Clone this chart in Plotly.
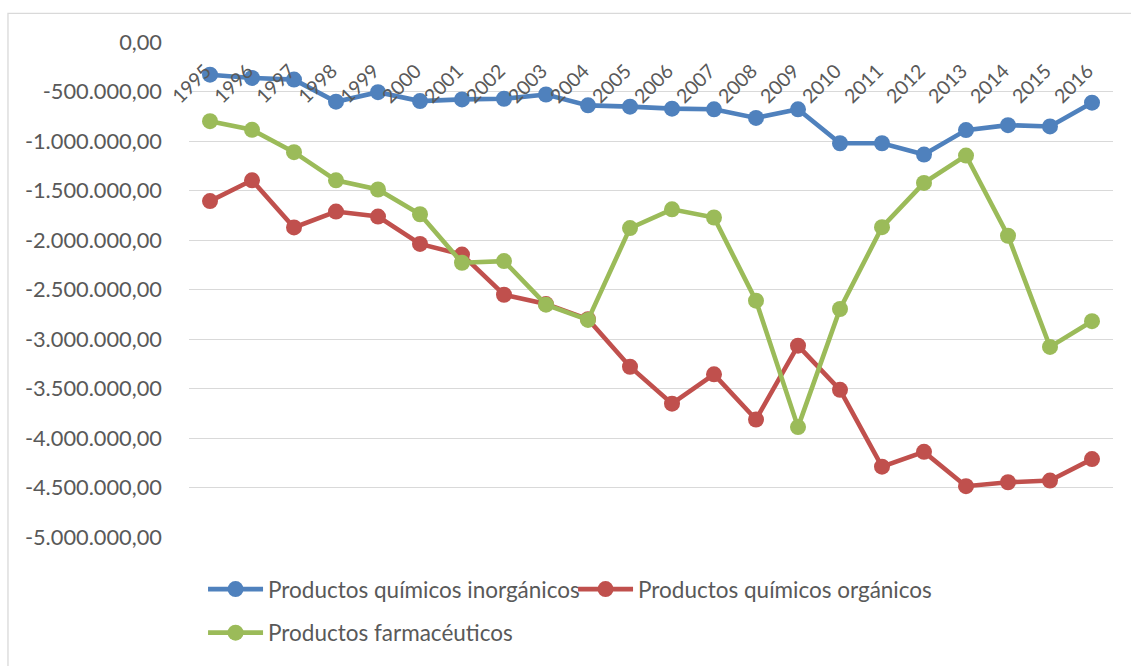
import plotly.graph_objects as go

years = list(range(1995, 2017))

inorganicos = [-330000, -363000, -380000, -603000, -507000, -597000, -580000, -573000,
               -530000, -640000, -653000, -673000, -680000, -767000, -680000, -1023000,
               -1023000, -1137000, -890000, -840000, -853000, -613000]
organicos = [-1607000, -1397000, -1873000, -1713000, -1763000, -2040000, -2147000, -2553000,
             -2647000, -2800000, -3280000, -3653000, -3357000, -3813000, -3067000, -3513000,
             -4290000, -4140000, -4487000, -4447000, -4430000, -4213000]
farmaceuticos = [-800000, -887000, -1113000, -1397000, -1490000, -1740000, -2230000, -2213000,
                 -2653000, -2807000, -1880000, -1690000, -1773000, -2613000, -3890000, -2697000,
                 -1870000, -1423000, -1147000, -1957000, -3080000, -2820000]

names = ["Productos químicos inorgánicos", "Productos químicos orgánicos", "Productos farmacéuticos"]
colors = ["#4F81BD", "#C0504D", "#9BBB59"]

tickvals = [-500000 * i for i in range(11)]


def fmt(v):
    s = f"{abs(v):,.2f}".replace(",", "X").replace(".", ",").replace("X", ".")
    return ("-" if v < 0 else "") + s


ticktext = [fmt(v) for v in tickvals]

FONT = "Lato, 'Open Sans', sans-serif"
GREY = "#595959"

fig = go.Figure()
series = [inorganicos, organicos, farmaceuticos]
legends = ["legend", "legend", "legend2"]
for name, vals, col, lg in zip(names, series, colors, legends):
    fig.add_trace(go.Scatter(
        x=years, y=vals, name=name, mode="lines+markers",
        line=dict(color=col, width=4.6),
        marker=dict(color=col, size=16),
        legend=lg,
    ))

# year labels sit under the zero line, rotated
for yr in years:
    fig.add_annotation(
        x=yr, y=0, xref="x", yref="y", text=str(yr), showarrow=False,
        textangle=-45, xanchor="right", yanchor="top",
        xshift=8, yshift=-15,
        font=dict(family=FONT, size=19.5, color=GREY),
    )

# chart area border (cut off by the page on the right and bottom)
fig.add_shape(type="rect", xref="paper", yref="paper",
              x0=-0.1959, x1=1.03, y0=-0.3, y1=1.058,
              line=dict(color="#D9D9D9", width=1.3), layer="below")

fig.update_layout(
    width=1131, height=666,
    margin=dict(l=189, r=18, t=42, b=124),
    paper_bgcolor="white", plot_bgcolor="white",
    font=dict(family=FONT, size=22, color=GREY),
    showlegend=True,
    xaxis=dict(showticklabels=False, showgrid=False, zeroline=False,
               showline=False, ticks="", range=[1994.5, 2016.5]),
    yaxis=dict(range=[-5000000, 0], tickvals=tickvals, ticktext=ticktext,
               showgrid=True, gridcolor="#D9D9D9", gridwidth=1.3, zeroline=False,
               showline=False, ticks="", ticklabelstandoff=26,
               tickfont=dict(family=FONT, size=21.8, color=GREY)),
    legend=dict(orientation="h", x=0.0152, y=-0.106, xanchor="left", yanchor="middle",
                itemwidth=55, entrywidth=300, entrywidthmode="pixels",
                font=dict(family=FONT, size=22.5, color=GREY),
                bgcolor="rgba(0,0,0,0)"),
    legend2=dict(orientation="h", x=0.0152, y=-0.194, xanchor="left", yanchor="middle",
                 itemwidth=55, font=dict(family=FONT, size=22.5, color=GREY),
                 bgcolor="rgba(0,0,0,0)"),
)

# drop the default 8px body margin so the figure starts at the window corner
fig.write_html("out.html", config={"displayModeBar": False},
               post_script="document.body.style.margin='0';")
